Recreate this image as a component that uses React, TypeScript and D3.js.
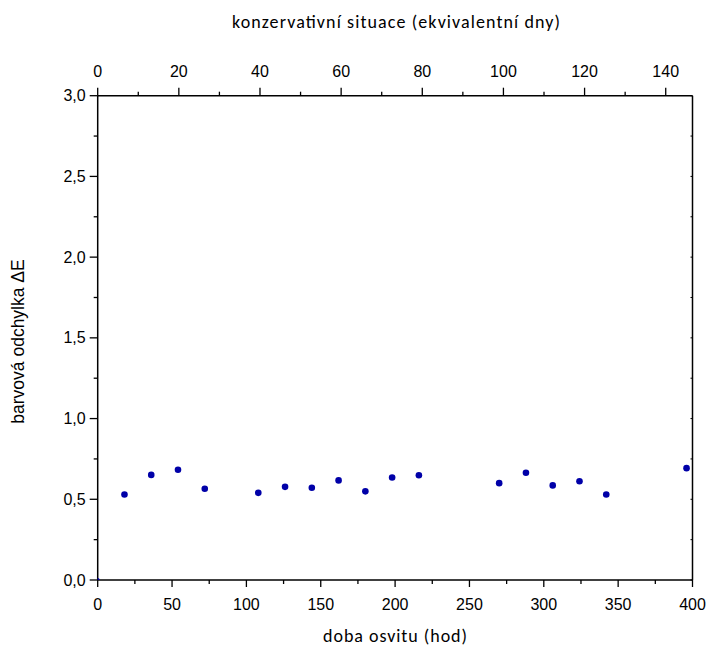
import React from "react";
import * as d3 from "d3";

const hours = [0, 18, 36, 54, 72, 108, 126, 144, 162, 180, 198, 216, 270, 288, 306, 324, 342, 396];
const deltaE = [0, 0.53, 0.651, 0.683, 0.565, 0.54, 0.577, 0.571, 0.617, 0.549, 0.635, 0.649, 0.6, 0.664, 0.586, 0.612, 0.53, 0.693];
const bottomTicks = [0, 50, 100, 150, 200, 250, 300, 350, 400];
const bottomMinor = [25, 75, 125, 175, 225, 275, 325, 375];
const topTicks = [0, 20, 40, 60, 80, 100, 120, 140];
const topMinor = [10, 30, 50, 70, 90, 110, 130];
const yTicks = [0, 0.5, 1, 1.5, 2, 2.5, 3];
const yMinor = [0.25, 0.75, 1.25, 1.75, 2.25, 2.75];

const W = 710, H = 648;
const L = 97.7, R = 692.5, T = 95.7, B = 580;
const HOURS_PER_DAY = 400 / 146.6;

export default function App() {
  const x = d3.scaleLinear().domain([0, 400]).range([L, R]);
  const xTop = d3.scaleLinear().domain([0, 400 / HOURS_PER_DAY]).range([L, R]);
  const y = d3.scaleLinear().domain([0, 3]).range([B, T]);
  const fmt = (v: number) => v.toFixed(1).replace(".", ",");
  const tickFont = "'Liberation Sans', Arial, sans-serif";
  const titleFont = "Carlito, Calibri, Lato, sans-serif";
  const stroke = "#000";
  return (
    <svg width={W} height={H} style={{ position: "absolute", left: 0, top: 0, background: "#fff" }}>
      <defs>
        <clipPath id="plot">
          <rect x={L} y={T} width={R - L} height={B - T} />
        </clipPath>
      </defs>
      <rect x={0} y={0} width={W} height={H} fill="#fff" />
      <line x1={L} x2={R} y1={B} y2={B} stroke={stroke} strokeWidth={1.5} />
      <line x1={L} x2={R} y1={T} y2={T} stroke={stroke} strokeWidth={1.5} />
      <line x1={L} x2={L} y1={T} y2={B} stroke={stroke} strokeWidth={1.5} />
      <line x1={R} x2={R} y1={T} y2={B} stroke={stroke} strokeWidth={1.5} />
      {bottomTicks.map((t) => (
        <g key={"b" + t}>
          <line x1={x(t)} x2={x(t)} y1={B} y2={B + 7} stroke={stroke} strokeWidth={1.3} />
          <text x={x(t)} y={B + 30} textAnchor="middle" fontFamily={tickFont} fontSize={16}>{t}</text>
        </g>
      ))}
      {bottomMinor.map((t) => (
        <line key={"bm" + t} x1={x(t)} x2={x(t)} y1={B} y2={B + 4} stroke={stroke} strokeWidth={1.3} />
      ))}
      {topTicks.map((t) => (
        <g key={"t" + t}>
          <line x1={xTop(t)} x2={xTop(t)} y1={T} y2={T - 8} stroke={stroke} strokeWidth={1.3} />
          <text x={xTop(t)} y={T - 19} textAnchor="middle" fontFamily={tickFont} fontSize={16}>{t}</text>
        </g>
      ))}
      {topMinor.map((t) => (
        <line key={"tm" + t} x1={xTop(t)} x2={xTop(t)} y1={T} y2={T - 4} stroke={stroke} strokeWidth={1.3} />
      ))}
      {yTicks.map((t) => (
        <g key={"y" + t}>
          <line x1={L} x2={L - 8} y1={y(t)} y2={y(t)} stroke={stroke} strokeWidth={1.3} />
          <text x={L - 12} y={y(t) + 5.5} textAnchor="end" fontFamily={tickFont} fontSize={16}>{fmt(t)}</text>
          <line x1={R} x2={R - 2} y1={y(t)} y2={y(t)} stroke={stroke} strokeWidth={1} />
        </g>
      ))}
      {yMinor.map((t) => (
        <g key={"ym" + t}>
          <line x1={L} x2={L - 4} y1={y(t)} y2={y(t)} stroke={stroke} strokeWidth={1.3} />
          <line x1={R} x2={R - 2} y1={y(t)} y2={y(t)} stroke={stroke} strokeWidth={1} />
        </g>
      ))}
      <g clipPath="url(#plot)">
        {hours.map((h, i) => (
          <circle key={"p" + i} cx={x(h)} cy={y(deltaE[i])} r={i === 0 ? 2 : 3.3} fill="#0000a8" />
        ))}
      </g>
      <text x={396} y={28} textAnchor="middle" fontFamily={titleFont} fontSize={18} textLength={328}>
        konzervativní situace (ekvivalentní dny)
      </text>
      <text x={395} y={642} textAnchor="middle" fontFamily={titleFont} fontSize={18} textLength={144}>
        doba osvitu (hod)
      </text>
      <text transform={`translate(24, 341.5) rotate(-90)`} textAnchor="middle" fontFamily={tickFont} fontSize={17.5}>
        barvová odchylka ΔE
      </text>
    </svg>
  );
}
